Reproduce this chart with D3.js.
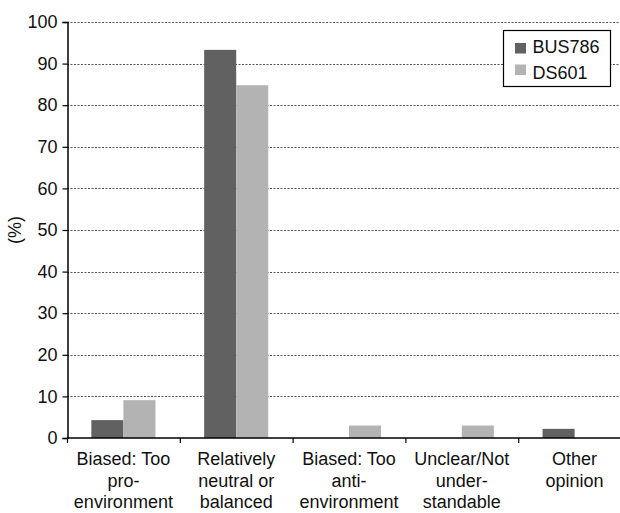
<!DOCTYPE html>
<html>
<head>
<meta charset="utf-8">
<script src="https://cdn.jsdelivr.net/npm/d3@7"></script>
<style>
  html, body { margin: 0; padding: 0; background: #fff; }
  svg { display: block; font-family: "Liberation Sans", Arial, sans-serif; }
</style>
</head>
<body>
<svg id="chart" width="620" height="513"></svg>
<script>
// Response categories (each label split into its display lines)
const categories = [
  ["Biased: Too", "pro-", "environment"],
  ["Relatively", "neutral or", "balanced"],
  ["Biased: Too", "anti-", "environment"],
  ["Unclear/Not", "under-", "standable"],
  ["Other", "opinion"]
];
const seriesNames = ["BUS786", "DS601"];
const bus786 = [4.3, 93.3, 0, 0, 2.2];
const ds601 = [9.1, 84.8, 3.0, 3.0, 0];
const yTicks = [0, 10, 20, 30, 40, 50, 60, 70, 80, 90, 100];
const colors = ["#616161", "#b3b3b3"];

const FONT = 18;
const svg = d3.select("#chart");
const plot = { left: 67, top: 22, right: 631, bottom: 438 };

const x = d3.scaleBand()
  .domain(d3.range(categories.length))
  .range([plot.left, plot.right])
  .paddingInner(0)
  .paddingOuter(0);

const xs = d3.scaleBand()
  .domain(seriesNames)
  .range([0, x.bandwidth()])
  .paddingInner(0)
  .paddingOuter(0.76);

const y = d3.scaleLinear().domain([0, 100]).range([plot.bottom, plot.top]);

// Dotted horizontal gridlines
svg.append("g")
  .selectAll("line")
  .data(yTicks.filter(d => d > 0))
  .join("line")
  .attr("x1", plot.left)
  .attr("x2", plot.right)
  .attr("y1", d => Math.round(y(d)) + 0.5)
  .attr("y2", d => Math.round(y(d)) + 0.5)
  .attr("stroke", "#555")
  .attr("stroke-width", 1)
  .attr("stroke-dasharray", "2,1.5");

// Bars
const data = [bus786, ds601];
const barG = svg.append("g");
data.forEach((vals, si) => {
  barG.selectAll(null)
    .data(vals)
    .join("rect")
    .attr("x", (d, i) => x(i) + xs(seriesNames[si]))
    .attr("width", xs.bandwidth())
    .attr("y", d => y(d))
    .attr("height", d => y(0) - y(d))
    .attr("fill", colors[si]);
});

// Y axis
const yAxis = d3.axisLeft(y).tickValues(yTicks).tickSize(5).tickPadding(5);
const yg = svg.append("g")
  .attr("transform", `translate(${plot.left + 0.5},0)`)
  .call(yAxis);
yg.attr("font-size", null).attr("font-family", null);
yg.select(".domain").attr("stroke", "#000").attr("stroke-width", 1.5);
yg.selectAll(".tick line").attr("stroke", "#000").attr("stroke-width", 1.2);
yg.selectAll(".tick text")
  .attr("font-size", FONT)
  .attr("fill", "#111");

// X axis: baseline with ticks at category boundaries
const xg = svg.append("g").attr("transform", `translate(0,${y(0)})`);
xg.append("line")
  .attr("x1", plot.left)
  .attr("x2", plot.right)
  .attr("stroke", "#000")
  .attr("stroke-width", 1.5);
xg.selectAll("line.tk")
  .data(d3.range(categories.length))
  .join("line")
  .attr("class", "tk")
  .attr("x1", d => x(d) + 0.5)
  .attr("x2", d => x(d) + 0.5)
  .attr("y1", 0)
  .attr("y2", 5)
  .attr("stroke", "#000")
  .attr("stroke-width", 1.2);

// Category labels
const labelG = svg.append("g");
categories.forEach((lines, i) => {
  const cx = x(i) + x.bandwidth() / 2;
  const t = labelG.append("text")
    .attr("x", cx)
    .attr("y", 465)
    .attr("text-anchor", "middle")
    .attr("font-size", FONT)
    .attr("fill", "#111");
  lines.forEach((ln, k) => {
    t.append("tspan")
      .attr("x", cx)
      .attr("dy", k === 0 ? 0 : 21.6)
      .text(ln);
  });
});

// Y axis title
svg.append("text")
  .attr("transform", `translate(21,${(y(0) + y(100)) / 2}) rotate(-90)`)
  .attr("text-anchor", "middle")
  .attr("font-size", FONT)
  .attr("fill", "#111")
  .text("(%)");

// Legend
const lg = svg.append("g").attr("transform", "translate(503.5,30.5)");
lg.append("rect")
  .attr("width", 107)
  .attr("height", 56)
  .attr("fill", "#fff")
  .attr("stroke", "#000")
  .attr("stroke-width", 1.2);
seriesNames.forEach((name, i) => {
  lg.append("rect")
    .attr("x", 11.5)
    .attr("y", 12.5 + i * 21.5)
    .attr("width", 11)
    .attr("height", 10.5)
    .attr("fill", colors[i]);
  lg.append("text")
    .attr("x", 29)
    .attr("y", 22 + i * 26)
    .attr("font-size", FONT)
    .attr("fill", "#111")
    .text(name);
});
</script>
</body>
</html>
